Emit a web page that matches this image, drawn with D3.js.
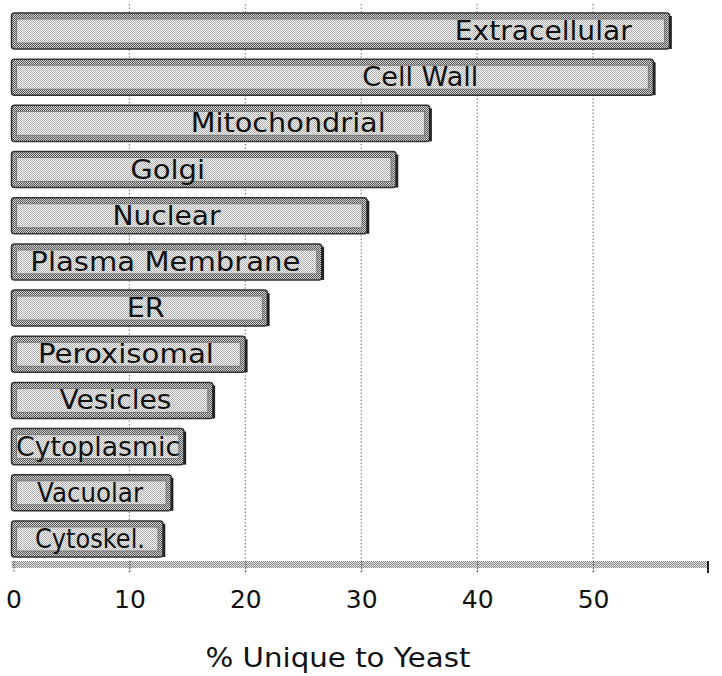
<!DOCTYPE html>
<html>
<head>
<meta charset="utf-8">
<script src="https://cdn.jsdelivr.net/npm/d3@7"></script>
<style>
  body { margin: 0; background: #fff; }
  text { font-family: "DejaVu Sans", sans-serif; fill: #111; }
</style>
</head>
<body>
<div id="holder"></div>
<script>
// data, top to bottom
const compartments = ["Extracellular", "Cell Wall", "Mitochondrial", "Golgi", "Nuclear",
  "Plasma Membrane", "ER", "Peroxisomal", "Vesicles", "Cytoplasmic", "Vacuolar", "Cytoskel."];
const uniqueToYeast = [56.6, 55.2, 35.9, 33.0, 30.5, 26.6, 21.9, 20.0, 17.2, 14.7, 13.6, 12.9];
const xTicks = [0, 10, 20, 30, 40, 50];
const xTitle = "% Unique to Yeast";

// where the label sits inside each bar (in % units) and how wide it is drawn
const labelAt = [45.7, 35.1, 23.7, 13.3, 13.2, 13.1, 11.4, 9.7, 8.8, 7.3, 6.6, 6.6];
const labelWidth = [177, 116, 195, 75, 108, 270, 38, 176, 112, 164, 106, 110];

const width = 722;
const height = 676;

const svg = d3.select("#holder")
    .append("svg")
    .attr("width", width)
    .attr("height", height);

// dithered fills, like the old screen grab
const defs = svg.append("defs");
function dither(id, a, b) {
    const p = defs.append("pattern")
        .attr("id", id)
        .attr("width", 2).attr("height", 2)
        .attr("patternUnits", "userSpaceOnUse");
    p.append("rect").attr("width", 2).attr("height", 2).attr("fill", b);
    p.append("rect").attr("width", 1).attr("height", 1).attr("fill", a);
    p.append("rect").attr("x", 1).attr("y", 1).attr("width", 1).attr("height", 1).attr("fill", a);
}
dither("light", "#b0b0b0", "#f4f4f4");
dither("dark", "#555", "#d4d4d4");
dither("band", "#8a8a8a", "#e4e4e4");

const xScale = d3.scaleLinear()
    .domain([0, 60])
    .range([13.5, 709]);

const yScale = d3.scaleBand()
    .domain(compartments)
    .range([13, 557])
    .paddingInner(0.22)
    .paddingOuter(0);

const axisY = 561;

// dotted gridlines
svg.append("g")
    .selectAll("line")
    .data(xTicks.filter(d => d > 0))
    .enter()
    .append("line")
    .attr("x1", d => xScale(d))
    .attr("x2", d => xScale(d))
    .attr("y1", 4)
    .attr("y2", axisY + 12)
    .attr("stroke", "#888")
    .attr("stroke-width", 1.2)
    .attr("stroke-dasharray", "1.5,2");

// bars
const bars = svg.append("g")
    .selectAll("g")
    .data(compartments.map((c, i) => ({ name: c, value: uniqueToYeast[i], at: labelAt[i], w: labelWidth[i] })))
    .enter()
    .append("g");

bars.append("rect")
    .attr("x", xScale(0) - 2)
    .attr("y", d => yScale(d.name))
    .attr("width", d => xScale(d.value) - xScale(0) + 2)
    .attr("height", yScale.bandwidth())
    .attr("rx", 3)
    .attr("fill", "url(#dark)")
    .attr("stroke", "#333")
    .attr("stroke-width", 1.5);

bars.append("rect")
    .attr("x", xScale(0) + 3)
    .attr("y", d => yScale(d.name) + 6)
    .attr("width", d => xScale(d.value) - xScale(0) - 8)
    .attr("height", yScale.bandwidth() - 12)
    .attr("fill", "url(#light)")
    .attr("stroke", "#777")
    .attr("stroke-width", 1);

// right edge shadow
bars.append("line")
    .attr("x1", d => xScale(d.value) + 1)
    .attr("x2", d => xScale(d.value) + 1)
    .attr("y1", d => yScale(d.name) + 3)
    .attr("y2", d => yScale(d.name) + yScale.bandwidth())
    .attr("stroke", "#222")
    .attr("stroke-width", 2.5);

bars.append("text")
    .attr("x", d => xScale(d.at))
    .attr("y", d => yScale(d.name) + yScale.bandwidth() / 2 + 9)
    .attr("text-anchor", "middle")
    .attr("font-size", 26)
    .attr("textLength", d => d.w)
    .attr("lengthAdjust", "spacingAndGlyphs")
    .text(d => d.name);

// x axis band
svg.append("rect")
    .attr("x", xScale(0) - 2)
    .attr("y", axisY)
    .attr("width", xScale(60) - xScale(0) + 2)
    .attr("height", 7)
    .attr("fill", "url(#band)");

const xAxis = d3.axisBottom(xScale)
    .tickValues(xTicks)
    .tickSize(12)
    .tickPadding(17)
    .tickFormat(d3.format("d"));

const gx = svg.append("g")
    .attr("transform", `translate(0, ${axisY})`)
    .call(xAxis);
gx.select(".domain").remove();
gx.selectAll(".tick line")
    .attr("stroke", "#444")
    .attr("stroke-dasharray", "1.5,1.5");
gx.selectAll(".tick text")
    .attr("font-size", 25)
    .attr("font-family", "DejaVu Sans, sans-serif")
    .attr("fill", "#111");

// little end mark at the right of the axis
svg.append("line")
    .attr("x1", xScale(60) - 1)
    .attr("x2", xScale(60) - 1)
    .attr("y1", axisY)
    .attr("y2", axisY + 12)
    .attr("stroke", "#222")
    .attr("stroke-width", 2);

svg.append("text")
    .attr("x", 338)
    .attr("y", 667)
    .attr("text-anchor", "middle")
    .attr("font-size", 26)
    .attr("textLength", 265)
    .attr("lengthAdjust", "spacingAndGlyphs")
    .text(xTitle);
</script>
</body>
</html>
